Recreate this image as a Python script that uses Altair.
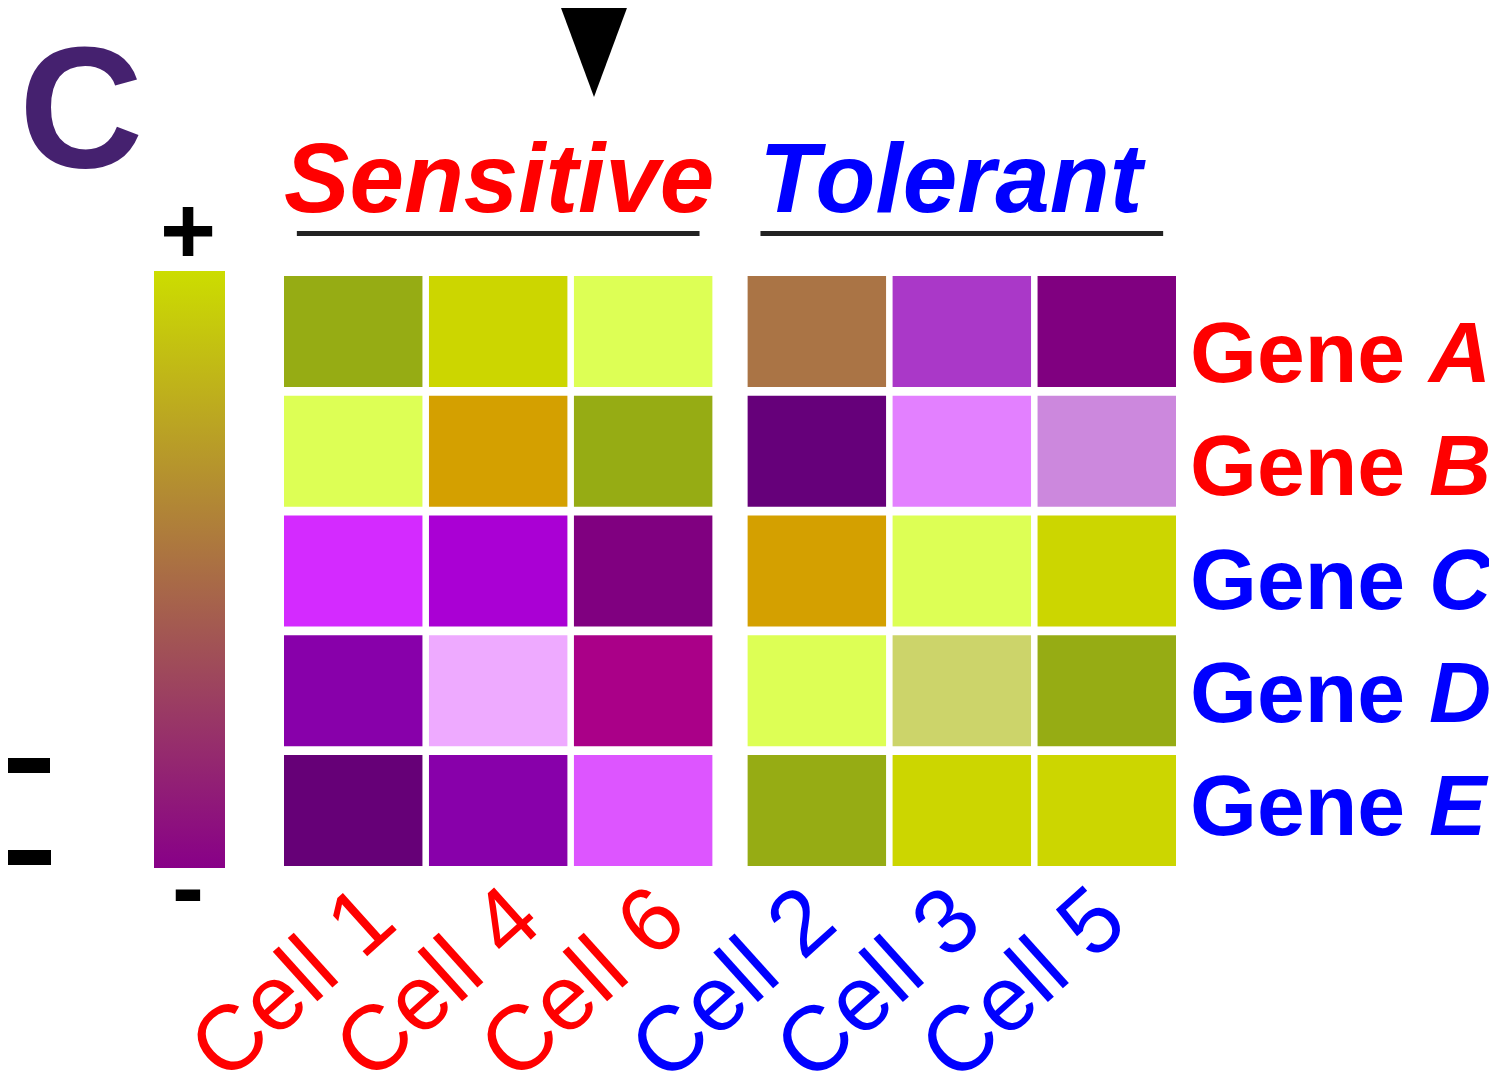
import altair as alt
import pandas as pd

# ---------------- data ----------------
genes = ["A", "B", "C", "D", "E"]
groups = ["Sensitive", "Tolerant"]
sensitive_cells = ["Cell 1", "Cell 4", "Cell 6"]
tolerant_cells = ["Cell 2", "Cell 3", "Cell 5"]

# expression colour of each cell (rows = genes A..E)
sensitive_colors = [
    ["#96AC14", "#CCD600", "#DDFF55"],
    ["#DDFF55", "#D4A000", "#96AC14"],
    ["#D42AFF", "#AA00D4", "#800080"],
    ["#8800AA", "#EEAAFF", "#AA0088"],
    ["#660077", "#8800AA", "#DD55FF"],
]
tolerant_colors = [
    ["#AA7445", "#AA38C8", "#800080"],
    ["#66007A", "#E380FF", "#CC88DD"],
    ["#D4A000", "#DDFF55", "#CCD600"],
    ["#DDFF55", "#CCD46A", "#96AC14"],
    ["#96AC14", "#CCD600", "#CCD600"],
]
group_colors = ["#FF0000", "#0000FF"]
gene_label_colors = ["#FF0000", "#FF0000", "#0000FF", "#0000FF", "#0000FF"]

rows = []
for gi, g in enumerate(genes):
    for si, c in enumerate(sensitive_cells):
        rows.append({"group": "Sensitive", "slot": si + 1, "cell": c, "gene": g,
                     "hex": sensitive_colors[gi][si]})
    for si, c in enumerate(tolerant_cells):
        rows.append({"group": "Tolerant", "slot": si + 1, "cell": c, "gene": g,
                     "hex": tolerant_colors[gi][si]})
heat_df = pd.DataFrame(rows)

cells_df = pd.DataFrame(
    [{"group": "Sensitive", "slot": i + 1, "cell": c, "lc": group_colors[0]}
     for i, c in enumerate(sensitive_cells)]
    + [{"group": "Tolerant", "slot": i + 1, "cell": c, "lc": group_colors[1]}
       for i, c in enumerate(tolerant_cells)]
)
groups_df = pd.DataFrame({"group": groups, "gc": group_colors})
genes_df = pd.DataFrame({"gene": genes, "word": ["Gene"] * 5, "lc": gene_label_colors})

FONT = "Liberation Sans"

# ---------------- scales ----------------
xs = alt.Scale(domain=groups, paddingInner=0.076, paddingOuter=0)
xo = alt.Scale(domain=[1, 2, 3], paddingInner=0.045, paddingOuter=0)
ys = alt.Scale(domain=genes, paddingInner=0.073, paddingOuter=0)
ylab = alt.Scale(type="point", domain=genes, range=[106, 559], padding=0)

X = alt.X("group:N", scale=xs, axis=None)
XO = alt.XOffset("slot:O", scale=xo)

heat = alt.Chart(heat_df).mark_rect().encode(
    x=X, xOffset=XO,
    y=alt.Y("gene:N", scale=ys, axis=None),
    color=alt.Color("hex:N", scale=None),
)


def cell_label_layer(group, dx, yv):
    return alt.Chart(cells_df).transform_filter(alt.datum.group == group).mark_text(
        angle=318, align="right", baseline="alphabetic", fontSize=92, font=FONT, dx=dx
    ).encode(
        x=X, xOffset=XO, y=alt.value(yv),
        text="cell:N", color=alt.Color("lc:N", scale=None),
    )


cell_labels_sens = cell_label_layer("Sensitive", 63, 693)
cell_labels_tol = cell_label_layer("Tolerant", 32, 673)

title_sens = alt.Chart(groups_df).transform_filter(alt.datum.group == "Sensitive").mark_text(
    fontSize=98, font=FONT, fontWeight="bold", fontStyle="italic",
    baseline="alphabetic", align="center", dx=1
).encode(x=X, y=alt.value(-64), text="group:N", color=alt.Color("gc:N", scale=None))

title_tol = alt.Chart(groups_df).transform_filter(alt.datum.group == "Tolerant").mark_text(
    fontSize=98, font=FONT, fontWeight="bold", fontStyle="italic",
    baseline="alphabetic", align="center", dx=-11
).encode(x=X, y=alt.value(-64), text="group:N", color=alt.Color("gc:N", scale=None))

underline = alt.Chart(groups_df).mark_bar(width={"band": 0.94}, color="#222222").encode(
    x=X, y=alt.value(-45), y2=alt.value(-40)
)

gene_word = alt.Chart(genes_df).mark_text(
    fontSize=86, font=FONT, fontWeight="bold", align="left", baseline="alphabetic"
).encode(
    x=alt.value(906), y=alt.Y("gene:N", scale=ylab, axis=None),
    text="word:N", color=alt.Color("lc:N", scale=None),
)
gene_letter = alt.Chart(genes_df).mark_text(
    fontSize=86, font=FONT, fontWeight="bold", fontStyle="italic", align="left",
    baseline="alphabetic"
).encode(
    x=alt.value(1145), y=alt.Y("gene:N", scale=ylab, axis=None),
    text="gene:N", color=alt.Color("lc:N", scale=None),
)

# ---------------- colour bar & decorations ----------------
gradient = alt.Gradient(
    gradient="linear",
    stops=[alt.GradientStop(color="#CCDD00", offset=0),
           alt.GradientStop(color="#880088", offset=1)],
    x1=0, x2=0, y1=0, y2=1,
)
one = pd.DataFrame({"k": [0]})
colorbar = alt.Chart(one).mark_rect(fill=gradient).encode(
    x=alt.value(-130), x2=alt.value(-59), y=alt.value(-5), y2=alt.value(592)
)
plus = alt.Chart(pd.DataFrame({"t": ["+"]})).mark_text(
    fontSize=96, font=FONT, fontWeight="bold", color="black", baseline="alphabetic"
).encode(x=alt.value(-96), y=alt.value(-12), text="t:N")
minus = alt.Chart(pd.DataFrame({"t": ["-"]})).mark_text(
    fontSize=96, font=FONT, fontWeight="bold", color="black", baseline="alphabetic"
).encode(x=alt.value(-96), y=alt.value(644), text="t:N")

panel_letter = alt.Chart(pd.DataFrame({"t": ["C"]})).mark_text(
    fontSize=172, font=FONT, fontWeight="bold", color="#45216F", baseline="alphabetic"
).encode(x=alt.value(-203), y=alt.value(-109), text="t:N")

triangle = alt.Chart(one).mark_point(
    shape="M-1,-2.7L1,-2.7L0,0Z", size=5184, filled=True, color="black",
    opacity=1, strokeWidth=0
).encode(x=alt.value(310), y=alt.value(-179))

bar1 = alt.Chart(one).mark_rect(color="black").encode(
    x=alt.value(-300), x2=alt.value(-234), y=alt.value(482), y2=alt.value(497)
)
bar2 = alt.Chart(one).mark_rect(color="black").encode(
    x=alt.value(-300), x2=alt.value(-233), y=alt.value(574), y2=alt.value(589)
)

chart = alt.layer(
    colorbar, plus, minus, panel_letter, triangle, bar1, bar2,
    heat, cell_labels_sens, cell_labels_tol, title_sens, title_tol, underline,
    gene_word, gene_letter,
).resolve_scale(y="independent").properties(
    width=892, height=590,
    autosize=alt.AutoSizeParams(type="none"),
    padding={"left": 276, "top": 268, "right": 313, "bottom": 208},
).configure_view(stroke=None)

chart.save("out.html", embed_options={"renderer": "svg", "actions": False})
